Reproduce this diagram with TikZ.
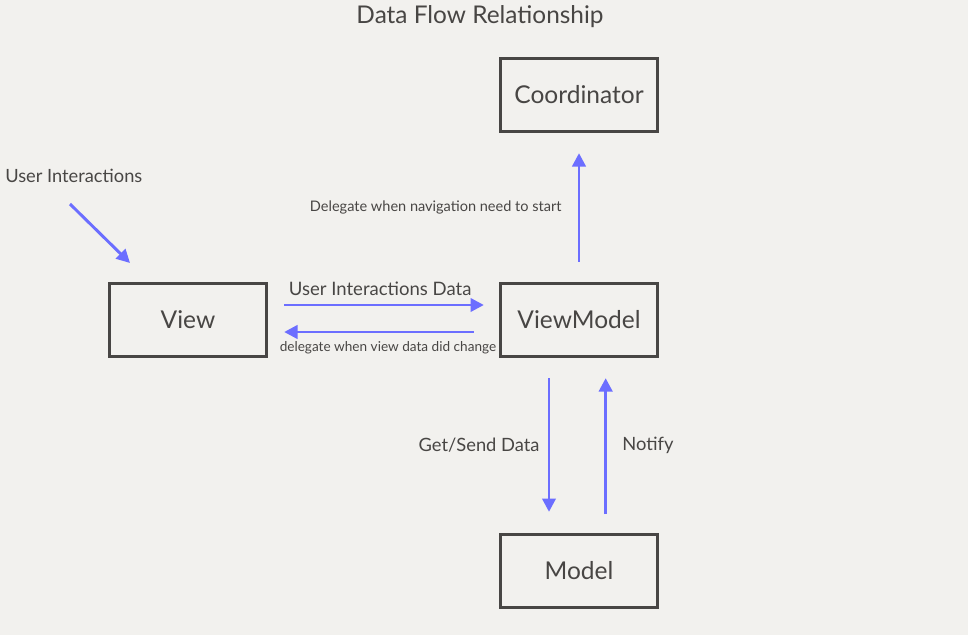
\documentclass[tikz,border=0pt]{standalone}
\usepackage{fontspec}
\setmainfont{Lato}
\usetikzlibrary{arrows.meta}
\definecolor{paper}{RGB}{242,241,238}
\definecolor{ink}{RGB}{72,70,68}
\definecolor{flowblue}{RGB}{108,110,255}
\begin{document}
\begin{tikzpicture}[
		x={(0.75pt,0pt)},
		y={(0pt,-0.75pt)},
		box/.style={draw=ink,line width=2.25pt,minimum width=118pt,minimum height=55pt,text=ink,font=\fontsize{18.4}{22}\selectfont},
		flow/.style={draw=flowblue,line width=2.2pt,-{Triangle[length=10pt,width=10pt]}},
		lbl/.style={text=ink,inner sep=0pt},
	]
		\fill[paper] (0,0) rectangle (968,635);
		\useasboundingbox (0,0) rectangle (968,635);
		
		\node[lbl,font=\fontsize{18.3}{22}\selectfont] (title) at (480,17) {Data Flow Relationship};
		
		\node[box] (coord) at (579,95) {Coordinator};
		\node[box] (view) at (188,320) {View};
		\node[box] (vm) at (579,320) {ViewModel};
		\node[box] (model) at (579,571) {Model};
		
		\node[lbl,anchor=west,font=\fontsize{13.7}{16}\selectfont] (ui) at (5,176) {User Interactions};
		\coordinate (uistart) at (70,204);
		\coordinate (uiend) at (130,263);
		\draw[flow] (uistart) -- (uiend);
		
		\draw[flow,shorten <=15pt,shorten >=15pt] (vm.north) -- node[lbl,pos=0.5,left=12pt,font=\fontsize{10.9}{13}\selectfont]{Delegate when navigation need to start} (coord.south);
		
		\draw[flow,shorten <=12pt,shorten >=11.25pt] ([yshift=11.25pt]view.east) -- node[lbl,above=6pt,xshift=-2.5pt,font=\fontsize{13.9}{16}\selectfont]{User Interactions Data} ([yshift=11.25pt]vm.west);
		\draw[flow,shorten <=18.75pt,shorten >=12pt] ([yshift=-9pt]vm.west) -- ([yshift=-9pt]view.east);
		\node[lbl,font=\fontsize{10.2}{12}\selectfont] (vdlbl) at (388,348) {delegate when view data did change};
		
		\draw[flow,shorten <=15pt,shorten >=15.75pt] ([xshift=-22.5pt]vm.south) -- node[lbl,left=6pt,font=\fontsize{13.75}{16}\selectfont]{Get/Send Data} ([xshift=-22.5pt]model.north);
		\draw[flow,shorten <=14pt,shorten >=15pt] ([xshift=20pt]model.north) -- node[lbl,right=11.5pt,font=\fontsize{13.75}{16}\selectfont]{Notify} ([xshift=20pt]vm.south);
	\end{tikzpicture}
\end{document}
